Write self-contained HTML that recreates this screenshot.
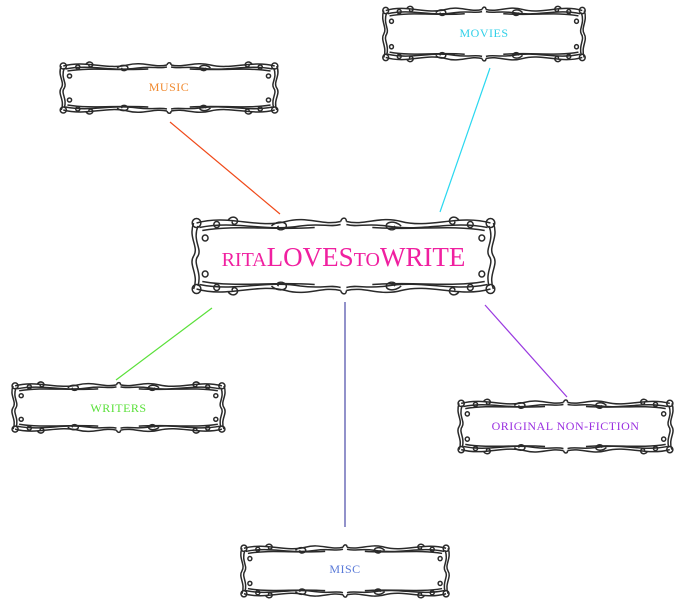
<!DOCTYPE html>
<html><head><meta charset="utf-8"><style>
html,body{margin:0;padding:0;background:#fff;}
body{width:682px;height:611px;overflow:hidden;position:relative;font-family:"Liberation Serif",serif;}
svg{position:absolute;left:0;top:0;}
.t{position:absolute;text-align:center;font-size:12px;letter-spacing:0.5px;}
</style></head><body>
<svg width="682" height="611" viewBox="0 0 682 611">
<defs>
<symbol id="fr" viewBox="0 0 220 60" preserveAspectRatio="none">
<g fill="none" stroke="#2a2a2a" stroke-width="1.5">
<path vector-effect="non-scaling-stroke" d="M8,8 C30,2 50,12 70,7 C85,3 95,10 108,7 M112,7 C125,10 135,3 150,7 C170,12 190,2 212,8"/>
<path vector-effect="non-scaling-stroke" d="M10,11 C35,6 55,14 80,10 C95,8 100,11 108,9 M112,9 C120,11 125,8 140,10 C165,14 185,6 210,11"/>
<path vector-effect="non-scaling-stroke" d="M12,13 C35,9 60,13 90,11 M130,11 C160,13 185,9 208,13"/>
<path vector-effect="non-scaling-stroke" d="M8,52 C30,58 50,48 70,53 C85,57 95,50 108,53 M112,53 C125,50 135,57 150,53 C170,48 190,58 212,52"/>
<path vector-effect="non-scaling-stroke" d="M10,49 C35,54 55,46 80,50 C95,52 100,49 108,51 M112,51 C120,49 125,52 140,50 C165,46 185,54 210,49"/>
<path vector-effect="non-scaling-stroke" d="M12,47 C35,51 60,47 90,49 M130,49 C160,47 185,51 208,47"/>
<path vector-effect="non-scaling-stroke" d="M6,8 C2,18 10,24 6,30 C2,36 10,42 6,52"/>
<path vector-effect="non-scaling-stroke" d="M9,10 C5,20 12,25 9,30 C5,35 12,40 9,50"/>
<path vector-effect="non-scaling-stroke" d="M214,8 C218,18 210,24 214,30 C218,36 210,42 214,52"/>
<path vector-effect="non-scaling-stroke" d="M211,10 C215,20 208,25 211,30 C215,35 208,40 211,50"/>
<path vector-effect="non-scaling-stroke" d="M30,6 c3,-4 8,-1 6,2 c-2,2 -4,0 -3,-1 M60,10 c4,-4 12,-3 10,1 c-3,3 -8,1 -5,-1 M150,10 c-4,-4 -12,-3 -10,1 c3,3 8,1 5,-1 M190,6 c-3,-4 -8,-1 -6,2 c2,2 4,0 3,-1"/>
<path vector-effect="non-scaling-stroke" d="M30,54 c3,4 8,1 6,-2 c-2,-2 -4,0 -3,1 M60,50 c4,4 12,3 10,-1 c-3,-3 -8,-1 -5,1 M150,50 c-4,4 -12,3 -10,-1 c3,-3 8,-1 5,1 M190,54 c-3,4 -8,1 -6,-2 c2,-2 4,0 3,1"/>
<path vector-effect="non-scaling-stroke" d="M108,7 c1,-3 4,-3 4,0 M108,53 c1,3 4,3 4,0"/>
<circle vector-effect="non-scaling-stroke" cx="8" cy="8" r="3"/><circle vector-effect="non-scaling-stroke" cx="212" cy="8" r="3"/>
<circle vector-effect="non-scaling-stroke" cx="8" cy="52" r="3"/><circle vector-effect="non-scaling-stroke" cx="212" cy="52" r="3"/>
<circle vector-effect="non-scaling-stroke" cx="14" cy="18" r="2"/><circle vector-effect="non-scaling-stroke" cx="206" cy="18" r="2"/>
<circle vector-effect="non-scaling-stroke" cx="14" cy="42" r="2"/><circle vector-effect="non-scaling-stroke" cx="206" cy="42" r="2"/>
<circle vector-effect="non-scaling-stroke" cx="22" cy="9" r="2"/><circle vector-effect="non-scaling-stroke" cx="198" cy="9" r="2"/>
<circle vector-effect="non-scaling-stroke" cx="22" cy="51" r="2"/><circle vector-effect="non-scaling-stroke" cx="198" cy="51" r="2"/>
</g>
</symbol>
</defs>
<line x1="170" y1="122" x2="280" y2="214" stroke="#f04a1a" stroke-width="1.2"/>
<line x1="490" y1="68" x2="440" y2="212" stroke="#2ad8f0" stroke-width="1.2"/>
<line x1="212" y1="308" x2="116" y2="380" stroke="#5ae03a" stroke-width="1.2"/>
<line x1="485" y1="305" x2="567" y2="397" stroke="#9a3ae0" stroke-width="1.2"/>
<line x1="345" y1="302" x2="345" y2="527" stroke="#4a4aa8" stroke-width="1.2"/>
<use href="#fr" x="55" y="58" width="228" height="60"/>
<use href="#fr" x="378" y="2" width="212" height="64"/>
<use href="#fr" x="185" y="211" width="317" height="90"/>
<use href="#fr" x="7" y="378" width="223" height="59"/>
<use href="#fr" x="453" y="395" width="225" height="63"/>
<use href="#fr" x="236" y="540" width="218" height="62"/>
</svg>
<div class="t" style="left:55px;width:228px;top:80px;color:#f08a30;">MUSIC</div>
<div class="t" style="left:378px;width:212px;top:26px;color:#30d0e8;">MOVIES</div>
<div class="t" style="left:185px;width:317px;top:242px;color:#f020a0;font-size:27px;letter-spacing:0;"><span style="font-size:20px">RITA</span>LOVES<span style="font-size:20px">TO</span>WRITE</div>
<div class="t" style="left:7px;width:223px;top:401px;color:#5ae03a;">WRITERS</div>
<div class="t" style="left:453px;width:225px;top:419px;color:#9a30e0;">ORIGINAL NON-FICTION</div>
<div class="t" style="left:236px;width:218px;top:562px;color:#5a7ad8;">MISC</div>
</body></html>
